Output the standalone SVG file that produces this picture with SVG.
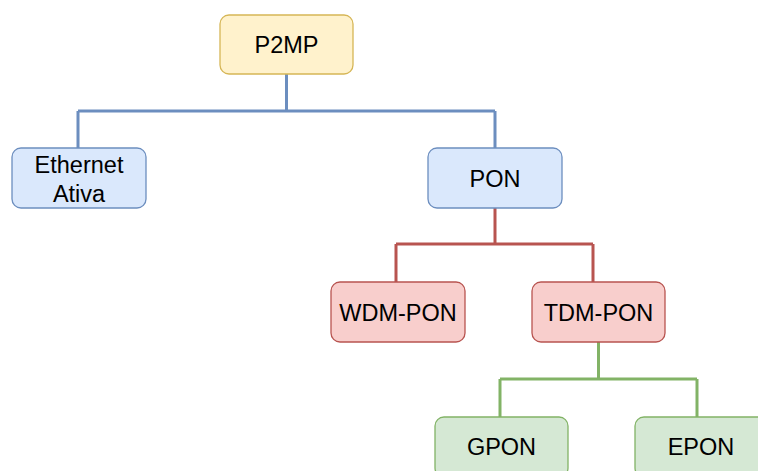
<svg xmlns="http://www.w3.org/2000/svg" width="758" height="471" viewBox="0 0 758 471">
<style>
.box{stroke-width:1.3}
.y{fill:#fff2cc;stroke:#d6b656}
.b{fill:#dae8fc;stroke:#6c8ebf}
.r{fill:#f8cecc;stroke:#b85450}
.g{fill:#d5e8d4;stroke:#82b366}
.t{font-family:"Liberation Sans",Arial,sans-serif;font-size:23.5px;fill:#000;text-anchor:middle}
.e{fill:none;stroke-width:3}
</style>
<rect width="758" height="471" fill="#ffffff"/>
<g id="connectors">
<path class="e" stroke="#6c8ebf" d="M286.5,74 V111 M78,111 H495 M78,111 V148 M495,111 V148"/>
<path class="e" stroke="#b85450" d="M495,208 V244 M396,244 H593 M396,244 V282 M593,244 V282"/>
<path class="e" stroke="#82b366" d="M598.5,342 V379 M500,379 H697 M500,379 V417 M697,379 V417"/>
</g>
<g id="p2mp"><rect class="box y" x="220" y="15" width="133" height="59" rx="9"/><text class="t" x="286.5" y="53">P2MP</text></g>
<g id="ethernet"><rect class="box b" x="12" y="148" width="134" height="60" rx="9"/><text class="t" x="79" y="172.5">Ethernet</text><text class="t" x="79" y="201.5">Ativa</text></g>
<g id="pon"><rect class="box b" x="428" y="148" width="134" height="60" rx="9"/><text class="t" x="495" y="186.5">PON</text></g>
<g id="wdm"><rect class="box r" x="331" y="282" width="134" height="60" rx="9"/><text class="t" x="398" y="320.5">WDM-PON</text></g>
<g id="tdm"><rect class="box r" x="532" y="282" width="133" height="60" rx="9"/><text class="t" x="598.5" y="320.5">TDM-PON</text></g>
<g id="gpon"><rect class="box g" x="435" y="417" width="133" height="60" rx="9"/><text class="t" x="501.5" y="454.5">GPON</text></g>
<g id="epon"><rect class="box g" x="635" y="417" width="133" height="60" rx="9"/><text class="t" x="701" y="454.5">EPON</text></g>
</svg>
